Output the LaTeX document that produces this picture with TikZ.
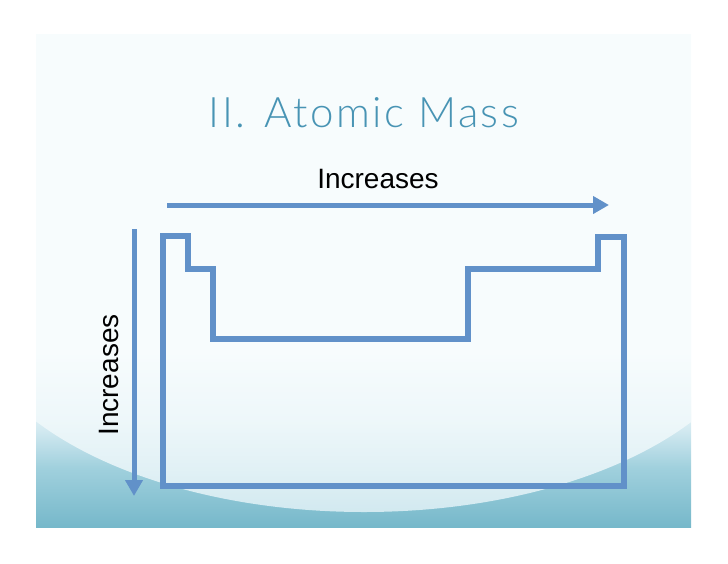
\documentclass[tikz,border=0pt]{standalone}
\usepackage{fontspec}
\setmainfont{Liberation Sans}
\newfontfamily\titlefont[LetterSpace=6]{Lato Light}
\usetikzlibrary{arrows.meta}
\definecolor{lineblue}{RGB}{97,145,201}
\definecolor{titleteal}{RGB}{72,148,180}
\definecolor{wavedark}{RGB}{118,184,202}
\definecolor{wavemid}{RGB}{160,208,221}
\definecolor{wavelight}{RGB}{212,234,241}
\definecolor{palebg}{RGB}{247,252,253}
\definecolor{glowtop}{RGB}{247,252,253}
\definecolor{glowbot}{RGB}{210,233,240}
\pgfdeclareverticalshading{slidebg}{100bp}{color(0bp)=(wavedark); color(25bp)=(wavedark); color(31bp)=(wavemid); color(35bp)=(wavelight); color(39bp)=(palebg); color(100bp)=(palebg)}
\pgfdeclareverticalshading{glow}{100bp}{color(0bp)=(glowbot); color(25bp)=(glowbot); color(30bp)=(glowtop!40!glowbot); color(36bp)=(glowtop!75!glowbot); color(44bp)=(glowtop); color(100bp)=(glowtop)}
\tikzset{
  outline/.style={draw=lineblue, line width=6.7pt, line join=miter},
  bigarrow/.style={draw=lineblue, line width=5pt, -{Triangle[length=16pt,width=17pt]}},
  label/.style={font=\fontsize{28}{30}\selectfont, text=black, inner sep=0pt},
}
\begin{document}
\begin{tikzpicture}[x=1pt,y=-1pt]
\useasboundingbox (0,0) rectangle (728,563);
% slide background
\shade[shading=slidebg] (36,34) rectangle (691,527);
\begin{scope}
\clip (36,34) rectangle (691,527);
\shade[shading=glow] (364,300) ellipse [x radius=400, y radius=212];
\end{scope}
% title
\node[font=\titlefont\fontsize{42}{46}\selectfont, text=titleteal, inner sep=0pt, anchor=base] (title) at (364,127) {II.\hspace{0.45em}Atomic Mass};
% horizontal arrow and label
\coordinate (ha) at (167,205);
\coordinate (hb) at (609,205);
\draw[bigarrow] (ha) -- (hb);
\node[label, anchor=base] (hlabel) at (378,188) {Increases};
% vertical arrow and label
\coordinate (va) at (134,229);
\coordinate (vb) at (134,496);
\draw[bigarrow] (va) -- (vb);
\node[label, rotate=90, anchor=base] (vlabel) at (118,375) {Increases};
% periodic table outline
\coordinate (p1) at (163,236);
\coordinate (p2) at (188,236);
\coordinate (p3) at (188,269);
\coordinate (p4) at (213,269);
\coordinate (p5) at (213,339);
\coordinate (p6) at (468,339);
\coordinate (p7) at (468,269);
\coordinate (p8) at (598,269);
\coordinate (p9) at (598,237);
\coordinate (p10) at (624,237);
\coordinate (p11) at (624,486);
\coordinate (p12) at (163,486);
\draw[outline] (p1) -- (p2) -- (p3) -- (p4) -- (p5) -- (p6) -- (p7) -- (p8) -- (p9) -- (p10) -- (p11) -- (p12) -- cycle;
\end{tikzpicture}
\end{document}
